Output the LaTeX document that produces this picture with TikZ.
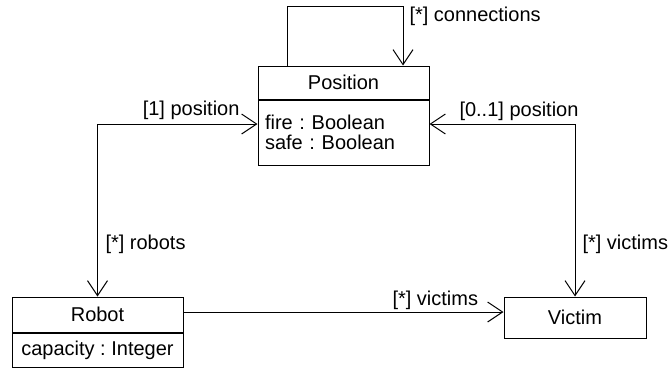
\documentclass[tikz,border=0pt]{standalone}
\usepackage{fontspec}
\setmainfont{Liberation Sans}
\usetikzlibrary{arrows.meta,positioning}
\frenchspacing

\begin{document}
\begin{tikzpicture}[x=1pt, y=-1pt, line width=1pt,
      font=\fontsize{20}{20}\selectfont,
      every node/.append style={inner sep=0pt},
      umlbox/.style={draw, minimum width=171pt},
      barb/.tip={Straight Barb[length=15pt,width=20pt]},
      nav/.style={-barb},
      assoc/.style={barb-barb}]
    \useasboundingbox (0,0) rectangle (668,367);
    % classes
    \node (Position) [umlbox, minimum height=33pt] at (343.5,82.5) {Position};
    \node (PositionAttr) [umlbox, minimum height=65pt, below=0pt of Position,
      align=left, text width=157pt] {fire : Boolean\\safe : Boolean};
    \node (Robot) [umlbox, minimum height=35pt] at (97.5,314.5) {Robot};
    \node (RobotAttr) [umlbox, minimum height=34pt, below=0pt of Robot] {capacity : Integer};
    \node (Victim) [umlbox, minimum width=142pt, minimum height=41pt] at (575,317.5) {Victim};
    % associations
    \draw[nav] ([xshift=-56.5pt]Position.north) -- ++(0,-59) -| ([xshift=59.5pt]Position.north);
    \draw[assoc] ([yshift=8.5pt]PositionAttr.west) -| (Robot.north);
    \draw[assoc] ([yshift=8.5pt]PositionAttr.east) -| (Victim.north);
    \draw[nav] ([yshift=2.5pt]Robot.east) -- ([yshift=2.5pt]Robot.east -| Victim.west);
    % role names
    \node (connections) [anchor=base west] at (409,21) {[*] connections};
    \node (onePosition) [anchor=base east] at (240,115) {[1] position};
    \node (optPosition) [anchor=base west] at (459,116) {[0..1] position};
    \node (robots) [anchor=base west] at (105,249) {[*] robots};
    \node (victims) [anchor=base west] at (582,249) {[*] victims};
    \node (robotVictims) [anchor=base west] at (392,305) {[*] victims};
  \end{tikzpicture}
\end{document}
